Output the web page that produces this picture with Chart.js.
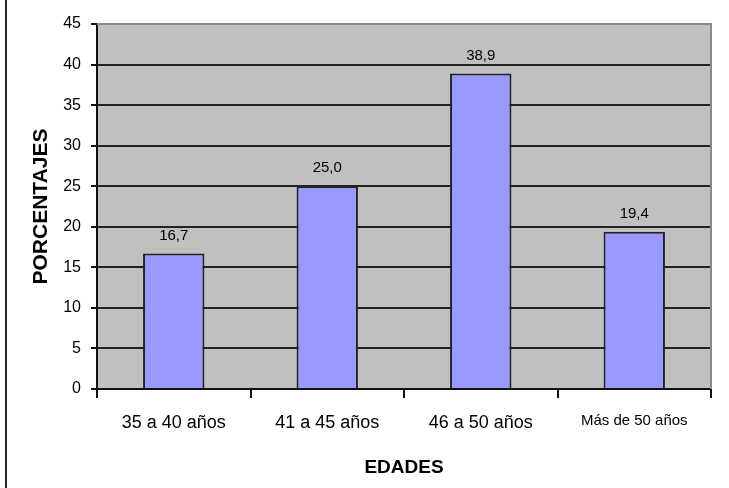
<!DOCTYPE html>
<html>
<head>
<meta charset="utf-8">
<script src="https://cdn.jsdelivr.net/npm/chart.js@4/dist/chart.umd.min.js"></script>
<style>
  html, body { margin: 0; padding: 0; background: #fff; }
  #wrap { width: 729px; height: 488px; position: relative; }
</style>
</head>
<body>
<div id="wrap"><canvas id="c" width="729" height="488"></canvas></div>
<script>
// Age groups and their share (%)
const categories = ['35 a 40 años', '41 a 45 años', '46 a 50 años', 'Más de 50 años'];
const porcentajes = [16.7, 25.0, 38.9, 19.4];
const yMin = 0, yMax = 45, yStep = 5;

const FONT = "'Liberation Sans', Arial, sans-serif";

// Comma decimal formatting
const fmt = v => v.toFixed(1).replace('.', ',');

// Frame: thin rule on the left edge, grey border on plot top/right
const framePlugin = {
  id: 'frame',
  beforeDraw(chart) {
    const ctx = chart.ctx;
    ctx.save();
    ctx.fillStyle = '#ffffff';
    ctx.fillRect(0, 0, chart.width, chart.height);
    ctx.fillStyle = '#222222';
    ctx.fillRect(5, 0, 2, chart.height);
    const a = chart.chartArea;
    ctx.fillStyle = '#c0c0c0';
    ctx.fillRect(a.left, a.top, a.right - a.left, a.bottom - a.top);
    ctx.restore();
  },
  afterDraw(chart) {
    const ctx = chart.ctx;
    const a = chart.chartArea;
    ctx.save();
    ctx.strokeStyle = '#8a8a8a';
    ctx.lineWidth = 2;
    ctx.beginPath();
    ctx.moveTo(a.left, a.top);
    ctx.lineTo(a.right, a.top);
    ctx.lineTo(a.right, a.bottom);
    ctx.stroke();
    ctx.restore();
  }
};

// Value labels above each bar
const valueLabels = {
  id: 'valueLabels',
  afterDatasetsDraw(chart) {
    const ctx = chart.ctx;
    const meta = chart.getDatasetMeta(0);
    const data = chart.data.datasets[0].data;
    ctx.save();
    ctx.font = `15px ${FONT}`;
    ctx.fillStyle = '#000';
    ctx.textAlign = 'center';
    ctx.textBaseline = 'middle';
    meta.data.forEach((bar, i) => {
      ctx.fillText(fmt(data[i]), bar.x, bar.y - 18);
    });
    ctx.restore();
  }
};

new Chart(document.getElementById('c'), {
  type: 'bar',
  data: {
    labels: categories,
    datasets: [{
      data: porcentajes,
      backgroundColor: '#9999ff',
      borderColor: '#222222',
      borderWidth: 2,
      borderSkipped: 'bottom',
      categoryPercentage: 1.0,
      barPercentage: 0.40
    }]
  },
  options: {
    responsive: false,
    animation: false,
    events: [],
    layout: { padding: { top: 24, right: 18, left: 0, bottom: 0 } },
    plugins: {
      legend: { display: false },
      tooltip: { enabled: false }
    },
    scales: {
      x: {
        offset: true,
        afterFit(scale) { scale.height = 99; },
        grid: {
          display: true,
          offset: true,
          drawOnChartArea: false,
          drawTicks: true,
          tickLength: 9,
          color: '#111',
          lineWidth: 2
        },
        border: { display: true, color: '#111', width: 2 },
        ticks: {
          color: '#000',
          padding: 14,
          maxRotation: 0,
          autoSkip: false,
          font: (ctx) => ({ family: FONT, size: ctx.index === 3 ? 15 : 18 })
        },
        title: {
          display: true,
          text: 'EDADES',
          color: '#000',
          font: { family: FONT, size: 19, weight: 'bold' },
          padding: { top: 0, bottom: 9 }
        }
      },
      y: {
        min: yMin,
        max: yMax,
        afterFit(scale) { scale.width = 97; },
        ticks: {
          stepSize: yStep,
          color: '#000',
          padding: 10,
          font: { family: FONT, size: 16 }
        },
        grid: {
          color: '#222222',
          lineWidth: 2,
          drawTicks: true,
          tickLength: 6,
          tickColor: '#111'
        },
        border: { display: true, color: '#111', width: 2 },
        title: {
          display: true,
          text: 'PORCENTAJES',
          color: '#000',
          font: { family: FONT, size: 21, weight: 'bold' },
          padding: { top: 29, bottom: 0 }
        }
      }
    }
  },
  plugins: [framePlugin, valueLabels]
});
</script>
</body>
</html>
